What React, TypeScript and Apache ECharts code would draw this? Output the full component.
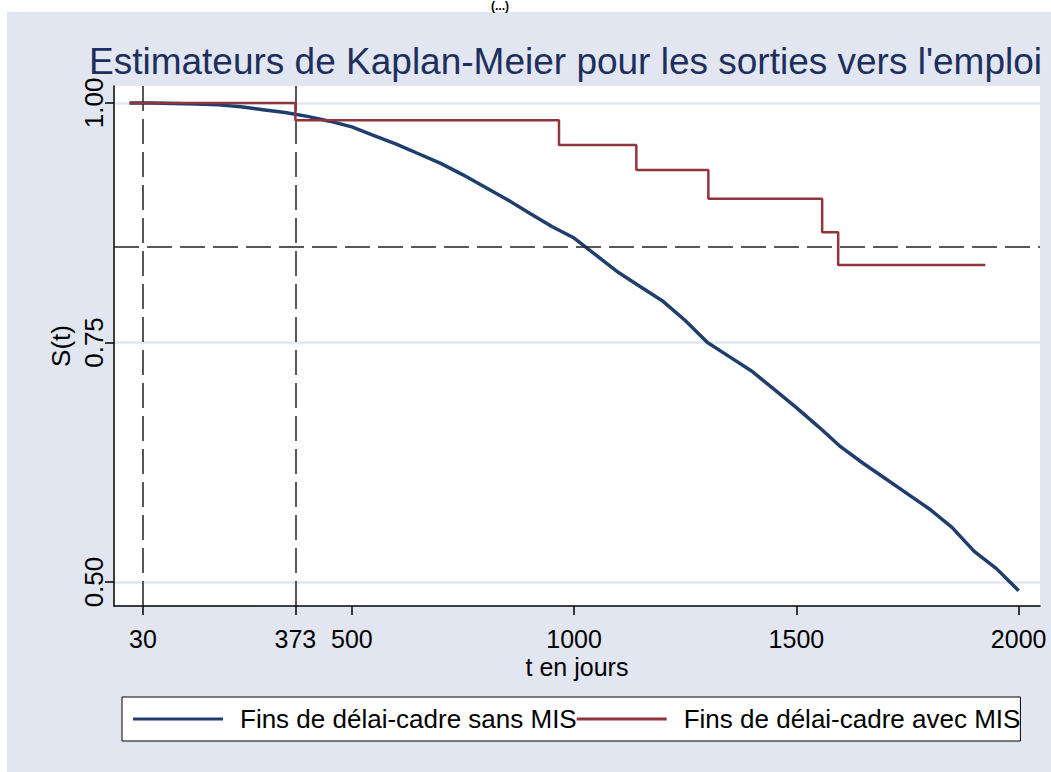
import React, { useEffect, useRef } from "react";
import * as echarts from "echarts";

// ---- data ----
const X_TICKS = [30, 373, 500, 1000, 1500, 2000];
const Y_TICKS = [0.5, 0.75, 1.0];
const REF_X = [30, 373];
const REF_Y = [0.85];

// Fins de délai-cadre sans MIS (KM estimate)
const T_SANS = [0, 50, 100, 150, 200, 250, 300, 350, 400, 450, 500, 550, 600, 650, 700, 750, 800, 850, 900, 950, 1000, 1050, 1100, 1150, 1200, 1250, 1300, 1350, 1400, 1450, 1500, 1550, 1600, 1650, 1700, 1750, 1800, 1850, 1900, 1950, 2000];
const S_SANS = [1.0, 1.0, 0.9995, 0.999, 0.998, 0.996, 0.993, 0.99, 0.986, 0.981, 0.975, 0.966, 0.957, 0.947, 0.937, 0.925, 0.912, 0.899, 0.885, 0.871, 0.859, 0.841, 0.823, 0.808, 0.793, 0.773, 0.75, 0.735, 0.72, 0.701, 0.682, 0.662, 0.641, 0.624, 0.608, 0.592, 0.576, 0.557, 0.532, 0.514, 0.491];

// Fins de délai-cadre avec MIS (step function)
const T_AVEC = [0, 373, 966, 1140, 1302, 1558, 1594, 1925];
const S_AVEC = [1.0, 0.982, 0.956, 0.93, 0.9, 0.865, 0.831, 0.831];

const TITLE = "Estimateurs de Kaplan-Meier pour les sorties vers l'emploi";
const TOP_TITLE = "(...)";
const NAME_SANS = "Fins de délai-cadre sans MIS";
const NAME_AVEC = "Fins de délai-cadre avec MIS";

const FONT = "'Liberation Sans', Arial, Helvetica, sans-serif";
const BLUE = "#1f3d6d";
const RED = "#90353b";
const BG = "#e1e6f0";
const GRID = "#e1e6f1";

export default function App() {
  const ref = useRef<HTMLDivElement>(null);
  useEffect(() => {
    if (!ref.current) return;
    const chart = echarts.init(ref.current, null, { renderer: "svg" });
    const sans = T_SANS.map((t, i) => [t, S_SANS[i]]);
    const avec = T_AVEC.map((t, i) => [t, S_AVEC[i]]);
    chart.setOption({
      animation: false,
      backgroundColor: "#ffffff",
      textStyle: { fontFamily: FONT },
      graphic: [
        {
          type: "rect",
          z: -10,
          shape: { x: 7, y: 12, width: 1051, height: 772 },
          style: { fill: BG },
          silent: true,
        },
        {
          type: "text",
          x: 500,
          y: 0,
          style: {
            text: TOP_TITLE,
            fill: "#000",
            font: `bold 12px ${FONT}`,
            textAlign: "center",
            textVerticalAlign: "top",
          },
        },
      ],
      title: {
        text: TITLE,
        left: 89,
        top: 43,
        padding: 0,
        textStyle: { color: "#1e2f5e", fontSize: 37, fontWeight: "normal", fontFamily: FONT },
      },
      grid: {
        left: 114,
        right: 11,
        top: 86,
        bottom: 166,
        show: true,
        backgroundColor: "#ffffff",
        borderWidth: 0,
        containLabel: false,
      },
      legend: {
        left: 122,
        top: 697,
        backgroundColor: "#ffffff",
        borderColor: "#000000",
        borderWidth: 1,
        padding: [9, 0, 9, 11],
        itemGap: 0,
        itemWidth: 90,
        itemHeight: 3,
        icon: "rect",
        textStyle: { fontSize: 26, color: "#000", fontFamily: FONT, padding: [0, 0, 0, 12] },
        data: [NAME_SANS, NAME_AVEC],
      },
      xAxis: {
        type: "value",
        min: -35,
        max: 2048,
        name: "t en jours",
        nameLocation: "middle",
        nameGap: 48,
        nameMoveOverlap: false,
        nameTextStyle: { fontSize: 25, lineHeight: 25, color: "#000", fontFamily: FONT },
        axisLine: { show: true, onZero: false, lineStyle: { color: "#000", width: 1.5 } },
        axisTick: { show: true, length: 9, customValues: X_TICKS, lineStyle: { color: "#000", width: 1.5 } },
        axisLabel: {
          customValues: X_TICKS,
          fontSize: 25,
          lineHeight: 25,
          color: "#000",
          margin: 20,
          fontFamily: FONT,
          formatter: (v: number) => String(v),
        },
        splitLine: { show: false },
      },
      yAxis: {
        type: "value",
        min: 0.475,
        max: 1.0177,
        name: "S(t)",
        nameLocation: "middle",
        nameRotate: 90,
        nameGap: 42,
        nameMoveOverlap: false,
        nameTextStyle: { fontSize: 26, lineHeight: 22, color: "#000", fontFamily: FONT },
        axisLine: { show: true, onZero: false, lineStyle: { color: "#000", width: 1.5 } },
        axisTick: { show: true, length: 9, customValues: Y_TICKS, lineStyle: { color: "#000", width: 1.5 } },
        axisLabel: {
          customValues: Y_TICKS,
          rotate: 90,
          fontSize: 26,
          lineHeight: 22,
          color: "#000",
          margin: 9,
          fontFamily: FONT,
          formatter: (v: number) => v.toFixed(2),
        },
        splitLine: { show: true, lineStyle: { color: GRID, width: 2.5 } },
      },
      series: [
        {
          name: NAME_SANS,
          type: "line",
          data: sans,
          showSymbol: false,
          symbol: "none",
          smooth: false,
          z: 4,
          lineStyle: { color: BLUE, width: 3.5 },
          itemStyle: { color: BLUE },
        },
        {
          name: NAME_AVEC,
          type: "line",
          data: avec,
          step: "end",
          showSymbol: false,
          symbol: "none",
          z: 5,
          lineStyle: { color: RED, width: 2.5 },
          itemStyle: { color: RED },
          markLine: {
            silent: true,
            symbol: "none",
            label: { show: false },
            lineStyle: { color: "#222", width: 1.5, type: [25, 8] },
            data: [
              ...REF_X.map((x) => ({ xAxis: x })),
              ...REF_Y.map((y) => ({ yAxis: y })),
            ],
          },
        },
      ],
    });
    return () => chart.dispose();
  }, []);
  return (
    <div
      ref={ref}
      style={{ position: "fixed", left: 0, top: 0, width: 1051, height: 772 }}
    />
  );
}
